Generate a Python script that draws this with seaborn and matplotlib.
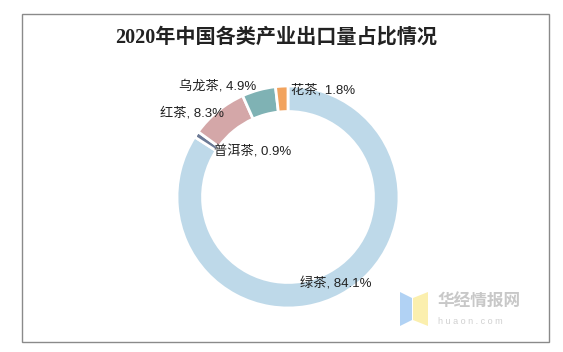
import matplotlib
matplotlib.use("Agg")
import matplotlib.pyplot as plt
import numpy as np
import seaborn as sns
from matplotlib.patches import Rectangle, Polygon

sns.set_theme(style="white")
plt.rcParams["font.family"] = ["Liberation Sans", "Noto Sans CJK SC", "DejaVu Sans"]

teas = ["绿茶", "普洱茶", "红茶", "乌龙茶", "花茶"]
shares = [84.1, 0.9, 8.3, 4.9, 1.8]
colors = ["#bed9e9", "#6c7a96", "#d4a7a8", "#7fb2b4", "#f2a35e"]

fig = plt.figure(figsize=(5.63, 3.52), dpi=100)
fig.patch.set_facecolor("white")

# frame around the whole chart
fig.add_artist(Rectangle((22 / 563, 10 / 352), 527 / 563, 328 / 352,
                         transform=fig.transFigure, fill=False,
                         edgecolor="#8a8a8a", linewidth=1.0))

fig.text(0.49, 0.893, "2020年中国各类产业出口量占比情况", ha="center", va="center",
         fontsize=14.5, fontweight="bold", color="#222222",
         family=["Liberation Serif", "Noto Sans CJK SC", "DejaVu Sans"])

ax = fig.add_axes([(288 - 111) / 563, (155 - 111) / 352, 222 / 563, 222 / 352])
ax.pie(shares, colors=colors, startangle=90, counterclock=False, radius=1.0,
       wedgeprops=dict(width=0.23, edgecolor="white", linewidth=2))
ax.set_aspect("equal")
ax.set_xlim(-1, 1)
ax.set_ylim(-1, 1)
ax.axis("off")

# label placement (data coords of the pie axes)
label_pos = {
    "绿茶": (0.11, -0.78, "left"),
    "普洱茶": (-0.67, 0.41, "left"),
    "红茶": (-0.58, 0.76, "right"),
    "乌龙茶": (-0.29, 1.0, "right"),
    "花茶": (0.03, 0.96, "left"),
}
for name, val in zip(teas, shares):
    x, y, ha = label_pos[name]
    ax.text(x, y, f"{name}, {val}%", ha=ha, va="center", fontsize=9.5,
            color="#222222", clip_on=False)

# watermark logo
fig.add_artist(Polygon([(400 / 563, 1 - 292 / 352), (412 / 563, 1 - 298 / 352),
                        (412 / 563, 1 - 320 / 352), (400 / 563, 1 - 326 / 352)],
                       closed=True, transform=fig.transFigure,
                       facecolor="#a9cdf3", edgecolor="none", alpha=0.9))
fig.add_artist(Polygon([(413 / 563, 1 - 298 / 352), (428 / 563, 1 - 292 / 352),
                        (428 / 563, 1 - 326 / 352), (413 / 563, 1 - 320 / 352)],
                       closed=True, transform=fig.transFigure,
                       facecolor="#fbeea5", edgecolor="none", alpha=0.9))
fig.text(438 / 563, 1 - 302 / 352, "华经情报网", ha="left", va="center",
         fontsize=12, color="#c8c8c8", fontweight="bold",
         family=["Noto Sans CJK SC", "DejaVu Sans"])
fig.text(438 / 563, 1 - 321 / 352, "h u a o n . c o m", ha="left", va="center",
         fontsize=6.5, color="#d0d0d0")

fig.savefig("out.png", dpi=100)
